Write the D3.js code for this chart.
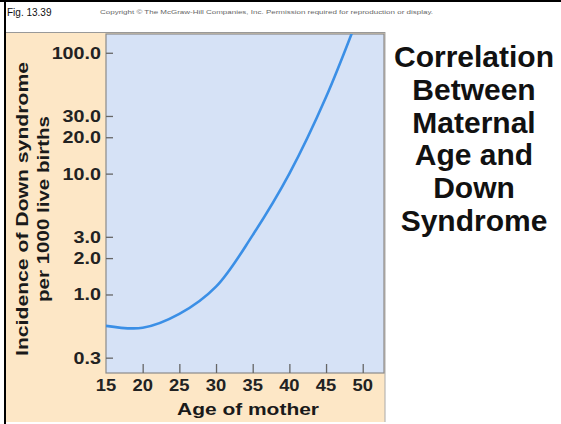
<!DOCTYPE html>
<html>
<head>
<meta charset="utf-8">
<script src="https://cdn.jsdelivr.net/npm/d3@7/dist/d3.min.js"></script>
<style>
  html, body { margin: 0; padding: 0; background: #fff; }
  svg { display: block; font-family: "Liberation Sans", Arial, sans-serif; }
</style>
</head>
<body>
<svg id="chart" width="561" height="424"></svg>
<script>
// Maternal age (years) and Down syndrome incidence per 1000 live births
const ages      = [15, 20, 25, 30, 35, 40, 45, 50];
const incidence = [0.55, 0.53, 0.69, 1.16, 3.1, 10, 43, 250];

const xTicks = [15, 20, 25, 30, 35, 40, 45, 50];
const yTicks = [0.3, 1.0, 2.0, 3.0, 10.0, 20.0, 30.0, 100.0];

const titleLines = ["Correlation", "Between", "Maternal", "Age and", "Down", "Syndrome"];

const svg = d3.select("#chart");

const plot = { left: 106, right: 384, top: 34, bottom: 373 };

const x = d3.scaleLinear().domain([15, 52.9]).range([plot.left, plot.right]);
const y = d3.scaleLog().domain([0.224, 143]).range([plot.bottom, plot.top]);

// stretch heavy lettering horizontally by a factor
function widen(sel, factor) {
  sel.each(function () {
    const w = this.getComputedTextLength();
    d3.select(this).attr("textLength", w * factor).attr("lengthAdjust", "spacingAndGlyphs");
  });
}

// frame lines
svg.append("rect").attr("x", 0).attr("y", 0).attr("width", 561).attr("height", 2).attr("fill", "#000");
svg.append("rect").attr("x", 4).attr("y", 0).attr("width", 2).attr("height", 424).attr("fill", "#000");

// header text
svg.append("text").attr("x", 7).attr("y", 16)
  .attr("font-size", 10).attr("fill", "#111").text("Fig. 13.39");
svg.append("text").attr("x", 100).attr("y", 14)
  .attr("font-size", 6).attr("fill", "#666")
  .attr("textLength", 333).attr("lengthAdjust", "spacingAndGlyphs")
  .text("Copyright \u00A9 The McGraw-Hill Companies, Inc. Permission required for reproduction or display.");

// tan panel behind the axes
svg.append("rect").attr("x", 6).attr("y", 32).attr("width", 379).attr("height", 390)
  .attr("fill", "#fde7c6");
svg.append("line").attr("x1", 385).attr("x2", 385).attr("y1", 32).attr("y2", 422)
  .attr("stroke", "#aaa").attr("stroke-width", 1);
svg.append("line").attr("x1", 6).attr("x2", 385).attr("y1", 32.5).attr("y2", 32.5)
  .attr("stroke", "#999").attr("stroke-width", 1);

// plot area
svg.append("rect")
  .attr("x", plot.left).attr("y", plot.top)
  .attr("width", plot.right - plot.left).attr("height", plot.bottom - plot.top)
  .attr("fill", "#d6e2f6").attr("stroke", "#8a8a8a").attr("stroke-width", 1.2);

svg.append("clipPath").attr("id", "clip").append("rect")
  .attr("x", plot.left).attr("y", plot.top)
  .attr("width", plot.right - plot.left).attr("height", plot.bottom - plot.top);

// axes with inward ticks
const yAxis = d3.axisRight(y).tickValues(yTicks).tickSize(7).tickFormat("");
svg.append("g").attr("transform", `translate(${plot.left},0)`).call(yAxis)
  .call(g => g.select(".domain").remove())
  .call(g => g.selectAll(".tick line").attr("stroke", "#666").attr("stroke-width", 1.3));

const xAxis = d3.axisTop(x).tickValues(xTicks.slice(1)).tickSize(9).tickFormat("");
svg.append("g").attr("transform", `translate(0,${plot.bottom})`).call(xAxis)
  .call(g => g.select(".domain").remove())
  .call(g => g.selectAll(".tick line").attr("stroke", "#666").attr("stroke-width", 1.3));

// tick labels
svg.append("g").selectAll("text").data(yTicks).join("text")
  .attr("x", 101).attr("y", d => y(d) + 6)
  .attr("text-anchor", "end").attr("font-size", 17).attr("font-weight", "bold")
  .attr("fill", "#222").text(d => d.toFixed(1))
  .call(widen, 1.16);

svg.append("g").selectAll("text").data(xTicks).join("text")
  .attr("x", d => x(d)).attr("y", 391)
  .attr("text-anchor", "middle").attr("font-size", 17).attr("font-weight", "bold")
  .attr("fill", "#222").text(d => d)
  .call(widen, 1.08);

// axis titles
svg.append("text").attr("x", 248).attr("y", 415)
  .attr("text-anchor", "middle").attr("font-size", 17).attr("font-weight", "bold")
  .attr("fill", "#1a1a1a").text("Age of mother")
  .attr("textLength", 142).attr("lengthAdjust", "spacingAndGlyphs");

const yTitle = svg.append("g").attr("transform", "translate(0,209) rotate(-90)");
yTitle.append("text").attr("x", 0).attr("y", 28)
  .attr("text-anchor", "middle").attr("font-size", 17).attr("font-weight", "bold")
  .attr("fill", "#1a1a1a").text("Incidence of Down syndrome")
  .attr("textLength", 294).attr("lengthAdjust", "spacingAndGlyphs");
yTitle.append("text").attr("x", 0).attr("y", 49)
  .attr("text-anchor", "middle").attr("font-size", 17).attr("font-weight", "bold")
  .attr("fill", "#1a1a1a").text("per 1000 live births")
  .attr("textLength", 186).attr("lengthAdjust", "spacingAndGlyphs");

// incidence curve
const line = d3.line()
  .x((d, i) => x(ages[i]))
  .y(d => y(d))
  .curve(d3.curveCatmullRom.alpha(0.5));

svg.append("path")
  .datum(incidence)
  .attr("clip-path", "url(#clip)")
  .attr("d", line)
  .attr("fill", "none")
  .attr("stroke", "#3b8fe6")
  .attr("stroke-width", 2.6);

// title block
svg.append("g").selectAll("text").data(titleLines).join("text")
  .attr("x", 474).attr("y", (d, i) => 67 + i * 32.8)
  .attr("text-anchor", "middle").attr("font-size", 30).attr("font-weight", "bold")
  .attr("fill", "#111").text(d => d);
</script>
</body>
</html>
